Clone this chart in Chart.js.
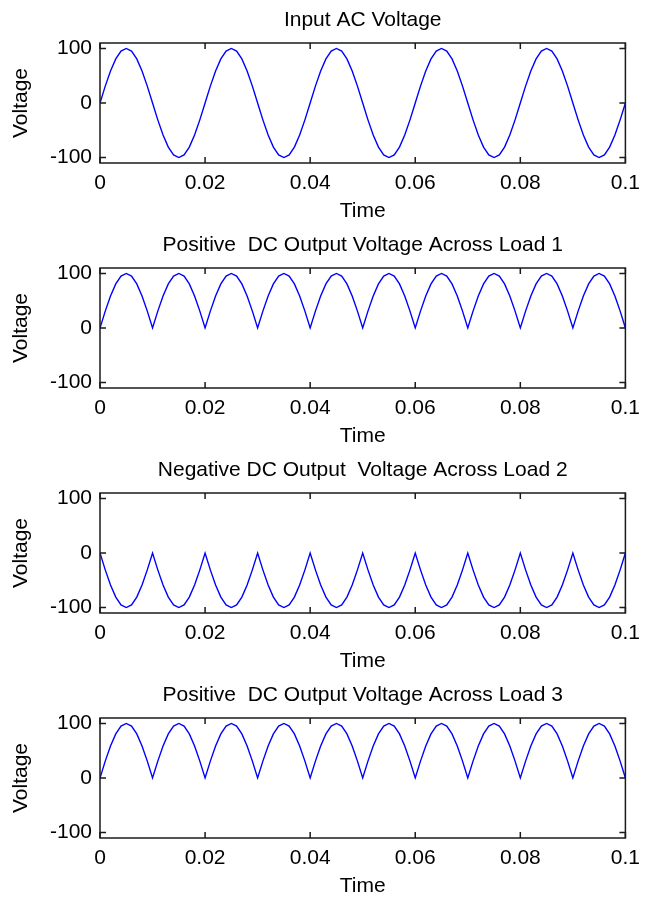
<!DOCTYPE html>
<html>
<head>
<meta charset="utf-8">
<script src="https://cdn.jsdelivr.net/npm/chart.js@4.4.1/dist/chart.umd.min.js"></script>
<style>
  html, body { margin: 0; padding: 0; background: #fff; overflow: hidden; }
  body { width: 648px; height: 897px; position: relative; }
  .panel { position: absolute; left: 0; width: 648px; height: 225px; }
</style>
</head>
<body>
<div class="panel" style="top:0px"><canvas id="c1"></canvas></div>
<div class="panel" style="top:225px"><canvas id="c2"></canvas></div>
<div class="panel" style="top:450px"><canvas id="c3"></canvas></div>
<div class="panel" style="top:675px"><canvas id="c4"></canvas></div>
<script>
// time axis (s)
const time = [
  0, 0.001, 0.002, 0.003, 0.004, 0.005, 0.006, 0.007, 0.008, 0.009,
  0.010, 0.011, 0.012, 0.013, 0.014, 0.015, 0.016, 0.017, 0.018, 0.019,
  0.020, 0.021, 0.022, 0.023, 0.024, 0.025, 0.026, 0.027, 0.028, 0.029,
  0.030, 0.031, 0.032, 0.033, 0.034, 0.035, 0.036, 0.037, 0.038, 0.039,
  0.040, 0.041, 0.042, 0.043, 0.044, 0.045, 0.046, 0.047, 0.048, 0.049,
  0.050, 0.051, 0.052, 0.053, 0.054, 0.055, 0.056, 0.057, 0.058, 0.059,
  0.060, 0.061, 0.062, 0.063, 0.064, 0.065, 0.066, 0.067, 0.068, 0.069,
  0.070, 0.071, 0.072, 0.073, 0.074, 0.075, 0.076, 0.077, 0.078, 0.079,
  0.080, 0.081, 0.082, 0.083, 0.084, 0.085, 0.086, 0.087, 0.088, 0.089,
  0.090, 0.091, 0.092, 0.093, 0.094, 0.095, 0.096, 0.097, 0.098, 0.099,
  0.100
];

// input AC voltage
const inputAC = [
  0, 30.9, 58.8, 80.9, 95.1, 100, 95.1, 80.9, 58.8, 30.9, 0, -30.9, -58.8, -80.9, -95.1, -100, -95.1, -80.9, -58.8, -30.9,
  0, 30.9, 58.8, 80.9, 95.1, 100, 95.1, 80.9, 58.8, 30.9, 0, -30.9, -58.8, -80.9, -95.1, -100, -95.1, -80.9, -58.8, -30.9,
  0, 30.9, 58.8, 80.9, 95.1, 100, 95.1, 80.9, 58.8, 30.9, 0, -30.9, -58.8, -80.9, -95.1, -100, -95.1, -80.9, -58.8, -30.9,
  0, 30.9, 58.8, 80.9, 95.1, 100, 95.1, 80.9, 58.8, 30.9, 0, -30.9, -58.8, -80.9, -95.1, -100, -95.1, -80.9, -58.8, -30.9,
  0, 30.9, 58.8, 80.9, 95.1, 100, 95.1, 80.9, 58.8, 30.9, 0, -30.9, -58.8, -80.9, -95.1, -100, -95.1, -80.9, -58.8, -30.9,
  0
];

// positive DC across load 1
const load1 = [
  0, 30.9, 58.8, 80.9, 95.1, 100, 95.1, 80.9, 58.8, 30.9, 0, 30.9, 58.8, 80.9, 95.1, 100, 95.1, 80.9, 58.8, 30.9,
  0, 30.9, 58.8, 80.9, 95.1, 100, 95.1, 80.9, 58.8, 30.9, 0, 30.9, 58.8, 80.9, 95.1, 100, 95.1, 80.9, 58.8, 30.9,
  0, 30.9, 58.8, 80.9, 95.1, 100, 95.1, 80.9, 58.8, 30.9, 0, 30.9, 58.8, 80.9, 95.1, 100, 95.1, 80.9, 58.8, 30.9,
  0, 30.9, 58.8, 80.9, 95.1, 100, 95.1, 80.9, 58.8, 30.9, 0, 30.9, 58.8, 80.9, 95.1, 100, 95.1, 80.9, 58.8, 30.9,
  0, 30.9, 58.8, 80.9, 95.1, 100, 95.1, 80.9, 58.8, 30.9, 0, 30.9, 58.8, 80.9, 95.1, 100, 95.1, 80.9, 58.8, 30.9,
  0
];

// negative DC across load 2
const load2 = [
  0, -30.9, -58.8, -80.9, -95.1, -100, -95.1, -80.9, -58.8, -30.9, 0, -30.9, -58.8, -80.9, -95.1, -100, -95.1, -80.9, -58.8, -30.9,
  0, -30.9, -58.8, -80.9, -95.1, -100, -95.1, -80.9, -58.8, -30.9, 0, -30.9, -58.8, -80.9, -95.1, -100, -95.1, -80.9, -58.8, -30.9,
  0, -30.9, -58.8, -80.9, -95.1, -100, -95.1, -80.9, -58.8, -30.9, 0, -30.9, -58.8, -80.9, -95.1, -100, -95.1, -80.9, -58.8, -30.9,
  0, -30.9, -58.8, -80.9, -95.1, -100, -95.1, -80.9, -58.8, -30.9, 0, -30.9, -58.8, -80.9, -95.1, -100, -95.1, -80.9, -58.8, -30.9,
  0, -30.9, -58.8, -80.9, -95.1, -100, -95.1, -80.9, -58.8, -30.9, 0, -30.9, -58.8, -80.9, -95.1, -100, -95.1, -80.9, -58.8, -30.9,
  0
];

// positive DC across load 3
const load3 = [
  0, 30.9, 58.8, 80.9, 95.1, 100, 95.1, 80.9, 58.8, 30.9, 0, 30.9, 58.8, 80.9, 95.1, 100, 95.1, 80.9, 58.8, 30.9,
  0, 30.9, 58.8, 80.9, 95.1, 100, 95.1, 80.9, 58.8, 30.9, 0, 30.9, 58.8, 80.9, 95.1, 100, 95.1, 80.9, 58.8, 30.9,
  0, 30.9, 58.8, 80.9, 95.1, 100, 95.1, 80.9, 58.8, 30.9, 0, 30.9, 58.8, 80.9, 95.1, 100, 95.1, 80.9, 58.8, 30.9,
  0, 30.9, 58.8, 80.9, 95.1, 100, 95.1, 80.9, 58.8, 30.9, 0, 30.9, 58.8, 80.9, 95.1, 100, 95.1, 80.9, 58.8, 30.9,
  0, 30.9, 58.8, 80.9, 95.1, 100, 95.1, 80.9, 58.8, 30.9, 0, 30.9, 58.8, 80.9, 95.1, 100, 95.1, 80.9, 58.8, 30.9,
  0
];

const xTicks = [0, 0.02, 0.04, 0.06, 0.08, 0.1];
const xTickLabels = ["0", "0.02", "0.04", "0.06", "0.08", "0.1"];
const yTicks = [-100, 0, 100];
const yTickLabels = ["-100", "0", "100"];

const panels = [
  { id: "c1", title: "Input AC Voltage", data: inputAC },
  { id: "c2", title: "Positive  DC Output Voltage Across Load 1", data: load1 },
  { id: "c3", title: "Negative DC Output  Voltage Across Load 2", data: load2 },
  { id: "c4", title: "Positive  DC Output Voltage Across Load 3", data: load3 },
];

const FONT = "'Liberation Sans', Arial, sans-serif";

// matlab風の枠と内向きの目盛り
const boxPlugin = {
  id: "box",
  afterDatasetsDraw(chart) {
    const { ctx, chartArea: a, scales } = chart;
    ctx.save();
    ctx.strokeStyle = "#1a1a1a";
    ctx.lineWidth = 1.5;
    ctx.strokeRect(a.left, a.top, a.right - a.left, a.bottom - a.top);
    ctx.beginPath();
    xTicks.forEach((v) => {
      const px = scales.x.getPixelForValue(v);
      ctx.moveTo(px, a.bottom); ctx.lineTo(px, a.bottom - 6);
      ctx.moveTo(px, a.top); ctx.lineTo(px, a.top + 6);
    });
    yTicks.forEach((v) => {
      const py = scales.y.getPixelForValue(v);
      ctx.moveTo(a.left, py); ctx.lineTo(a.left + 6, py);
      ctx.moveTo(a.right, py); ctx.lineTo(a.right - 6, py);
    });
    ctx.stroke();
    ctx.restore();
  },
};

// タイトルは軸の中央に
const titlePlugin = {
  id: "axTitle",
  afterDraw(chart, args, opts) {
    const { ctx, chartArea: a } = chart;
    ctx.save();
    ctx.font = "21px " + FONT;
    ctx.fillStyle = "#000";
    ctx.textAlign = "center";
    ctx.textBaseline = "alphabetic";
    ctx.fillText(opts.text, (a.left + a.right) / 2, 26);
    ctx.restore();
  },
};

panels.forEach((p) => {
  new Chart(document.getElementById(p.id), {
    type: "line",
    data: {
      labels: time,
      datasets: [{
        data: p.data,
        borderColor: "#0000ff",
        borderWidth: 1.4,
        pointRadius: 0,
        tension: 0,
        fill: false,
      }],
    },
    options: {
      responsive: true,
      maintainAspectRatio: false,
      animation: false,
      events: [],
      layout: { padding: { top: 43, right: 22, left: 0, bottom: 0 } },
      plugins: {
        legend: { display: false },
        tooltip: { enabled: false },
        axTitle: { text: p.title },
      },
      scales: {
        x: {
          type: "linear",
          min: 0,
          max: 0.1,
          afterBuildTicks: (s) => { s.ticks = xTicks.map((v) => ({ value: v })); },
          afterFit: (s) => { s.height = 62; },
          grid: { display: false, drawTicks: false },
          border: { display: false },
          ticks: {
            padding: 8,
            maxRotation: 0,
            color: "#000",
            font: { family: FONT, size: 21 },
            callback: (v, i) => xTickLabels[i],
          },
          title: {
            display: true,
            text: "Time",
            color: "#000",
            font: { family: FONT, size: 21 },
            padding: { top: 0, bottom: 1 },
          },
        },
        y: {
          min: -110,
          max: 110,
          afterBuildTicks: (s) => { s.ticks = yTicks.map((v) => ({ value: v })); },
          afterFit: (s) => { s.width = 100; },
          grid: { display: false, drawTicks: false },
          border: { display: false },
          ticks: {
            padding: 8,
            color: "#000",
            font: { family: FONT, size: 21 },
            callback: (v, i) => yTickLabels[i],
          },
          title: {
            display: true,
            text: "Voltage",
            color: "#000",
            font: { family: FONT, size: 21 },
            padding: { top: 9, bottom: 0 },
          },
        },
      },
    },
    plugins: [boxPlugin, titlePlugin],
  });
});
</script>
</body>
</html>
